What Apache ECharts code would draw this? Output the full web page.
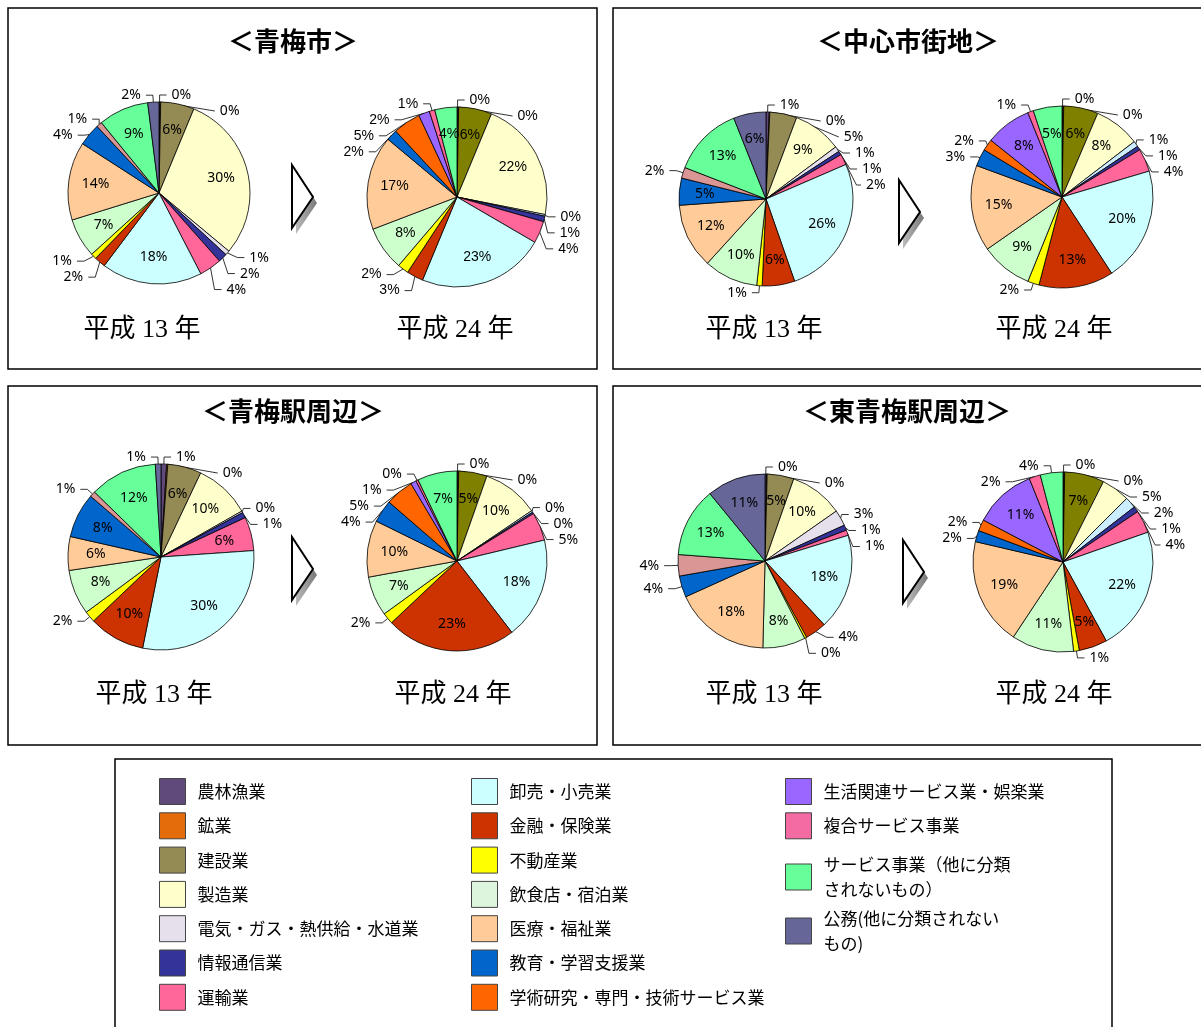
<!DOCTYPE html>
<html><head><meta charset="utf-8">
<script src="https://cdn.jsdelivr.net/npm/echarts@6/dist/echarts.min.js"></script>
<style>html,body{margin:0;padding:0;background:#fff}#c{width:1201px;height:1027px}</style>
</head><body><div id="c"></div><script>
// ---- data ----
const categories = ['農林漁業','鉱業','建設業','製造業','電気・ガス・熱供給・水道業','情報通信業','運輸業',
  '卸売・小売業','金融・保険業','不動産業','飲食店・宿泊業','医療・福祉業','教育・学習支援業','学術研究・専門・技術サービス業',
  '生活関連サービス業・娯楽業','複合サービス事業','サービス事業（他に分類されないもの）','公務(他に分類されないもの)'];
const panelTitles = ['＜青梅市＞','＜中心市街地＞','＜青梅駅周辺＞','＜東青梅駅周辺＞'];
const yearLabels = ['平成 13 年','平成 24 年'];
const omeH13     = [0.2,0.1,6,30,0.8,1.6,4,18,2,1,7,14,4,null,null,1,9,2];
const omeH24     = [0.2,0.1,6,22,0.3,1,4,23,3,2,8,17,2,5,2,1,4,null];
const chushinH13 = [0.6,0.1,5,9,1,0.7,2,26,6,1,10,12,5,null,null,2,13,6];
const chushinH24 = [0.2,0.1,6,8,1,0.7,4,20,13,2,9,15,3,2,8,1,5,null];
const ekiH13     = [1,0.2,6,10,0.3,1,6,30,10,2,8,6,8,null,null,1,12,1];
const ekiH24     = [0.2,0.1,5,10,0.3,0.3,5,18,23,2,7,10,4,5,1,0.4,7,null];
const higashiH13 = [0.3,0.1,5,10,3,1,1,18,4,0.4,8,18,4,null,null,4,13,11];
const higashiH24 = [0.2,0.1,7,5,2,1,4,22,5,1,11,19,2,2,11,2,4,null];

// ---- styles ----
const colorsH13 = ['#604A7B','#E46C0A','#948A54','#FFFFCC','#E6E0EC','#333399','#FF6699','#CCFFFF','#CC3300','#FFFF00',
  '#CCFFCC','#FFCC99','#0066CC','#FF6600','#9966FF','#D99694','#66FF99','#666699'];
const colorsH24 = ['#604A7B','#E46C0A','#808000','#FFFFCC','#CCECFF','#333399','#FF6699','#CCFFFF','#CC3300','#FFFF00',
  '#CCFFCC','#FFCC99','#0066CC','#FF6600','#9966FF','#FF6699','#66FF99','#666699'];
const legendColors = ['#604A7B','#E46C0A','#948A54','#FFFFCC','#E6E0EC','#333399','#FF6699','#CCFFFF','#CC3300','#FFFF00',
  '#DDF5DD','#FFCC99','#0066CC','#FF6600','#9966FF','#F46BA3','#66FF99','#666699'];
const legendLabels = {'サービス事業（他に分類されないもの）':'サービス事業（他に分類\nされないもの）',
  '公務(他に分類されないもの)':'公務(他に分類されない\nもの)'};

const pies = [
  {values: omeH13, colors: colorsH13, center:[159,193], r:91, font:'"Noto Sans"', inside:[2,3,7,10,11,16]},
  {values: omeH24, colors: colorsH24, center:[457,197], r:90, font:'"Liberation Sans"', inside:[2,3,7,10,11,16]},
  {values: chushinH13, colors: colorsH13, center:[766,199], r:87, font:'"Noto Sans"', inside:[3,7,8,10,11,12,16,17]},
  {values: chushinH24, colors: colorsH24, center:[1062,197], r:91, font:'"Noto Sans"', inside:[2,3,7,8,10,11,14,16]},
  {values: ekiH13, colors: colorsH13, center:[161,557], r:93, font:'"Noto Sans"', inside:[2,3,6,7,8,10,11,12,16]},
  {values: ekiH24, colors: colorsH24, center:[457,561], r:90, font:'"Noto Sans"', inside:[2,3,7,8,10,11,16]},
  {values: higashiH13, colors: colorsH13, center:[765,561], r:87, font:'"Noto Sans"', inside:[2,3,7,10,11,16,17]},
  {values: higashiH24, colors: colorsH24, center:[1063,562], r:90, font:'"Noto Sans"', inside:[2,7,8,10,11,14]}
];

const fmt = p => Math.round(p.value) + '%';
const series = [];
pies.forEach(p => {
  const items = [];
  p.values.forEach((v, i) => { if (v != null) items.push({i, name: categories[i], value: v}); });
  const ins = new Set(p.inside);
  series.push({
    type:'pie', center:p.center, radius:p.r, startAngle:90, clockwise:true, silent:true,
    avoidLabelOverlap:true, animation:false,
    itemStyle:{borderColor:'#000', borderWidth:0.8},
    label:{position:'outside', formatter:fmt, fontSize:14, color:'#000', fontFamily:p.font},
    labelLine:{length:7, length2:7, lineStyle:{color:'#000', width:0.8}},
    data: items.map(d => ({name:d.name, value:d.value, itemStyle:{color:p.colors[d.i]},
      label:{show:!ins.has(d.i)}, labelLine:{show:!ins.has(d.i)}}))
  });
  series.push({
    type:'pie', center:p.center, radius:p.r*1.34, startAngle:90, clockwise:true, silent:true, animation:false,
    itemStyle:{color:'rgba(0,0,0,0)', borderWidth:0},
    label:{position:'inside', formatter:fmt, fontSize:14, color:'#000', fontFamily:p.font},
    labelLine:{show:false},
    data: items.map(d => ({name:d.name, value:d.value, itemStyle:{color:'rgba(0,0,0,0)'},
      label:{show:ins.has(d.i)}}))
  });
});

function legendData(idx){
  return idx.map(i => ({name: categories[i], itemStyle:{color: legendColors[i], borderColor:'#444', borderWidth:1}}));
}
const legendBase = {orient:'vertical', icon:'rect', itemWidth:26, itemHeight:26, itemGap:7.3, selectedMode:false,
  padding:0, height:250,
  formatter: n => legendLabels[n] || n,
  textStyle:{fontSize:17, color:'#000', fontFamily:'"Noto Sans CJK JP"', lineHeight:25, padding:[0,0,0,7]}};
const legends = [
  Object.assign({left:159, top:778, data:legendData([0,1,2,3,4,5,6])}, legendBase),
  Object.assign({left:471, top:778, data:legendData([7,8,9,10,11,12,13])}, legendBase),
  Object.assign({left:785, top:778, data:legendData([14,15])}, legendBase),
  Object.assign({left:785, top:852, data:legendData([16])}, legendBase, {height:60}),
  Object.assign({left:785, top:906, data:legendData([17])}, legendBase, {height:60})
];

// ---- decoration ----
const graphics = [];
const panels = [[8,8,589,361],[613,8,600,361],[8,386,589,359],[613,386,600,359]];
panels.forEach(b => graphics.push({type:'rect', shape:{x:b[0],y:b[1],width:b[2],height:b[3]},
  style:{fill:'none', stroke:'#000', lineWidth:1.5}, silent:true}));
graphics.push({type:'rect', shape:{x:115,y:759,width:997,height:280}, style:{fill:'none', stroke:'#000', lineWidth:1.5}, silent:true});
const titlePos = [[293,41],[908,41],[293,411],[907,411]];
titlePos.forEach((t,i) => graphics.push({type:'text', x:t[0], y:t[1], silent:true,
  style:{text:panelTitles[i], fontSize:26, fontWeight:'bold', fontFamily:'"Noto Sans CJK JP"', fill:'#000', align:'center', verticalAlign:'middle'}}));
const yearPos = [[142,330,0],[455,330,1],[764,330,0],[1054,330,1],[154,695,0],[453,695,1],[764,695,0],[1054,695,1]];
yearPos.forEach(t => graphics.push({type:'text', x:t[0], y:t[1], silent:true,
  style:{text:yearLabels[t[2]], fontSize:26, fontFamily:'"Liberation Serif","Noto Sans CJK JP"', fill:'#000', align:'center', verticalAlign:'middle'}}));
const arrows = [[292,165],[899,180],[292,537],[903,540]];
arrows.forEach(a => {
  graphics.push({type:'polygon', silent:true, shape:{points:[[a[0]+4,a[1]+6],[a[0]+25,a[1]+38],[a[0]+4,a[1]+69]]},
    style:{fill:new echarts.graphic.LinearGradient(0,0,1,0,[{offset:0,color:'#bbb'},{offset:1,color:'#777'}])}});
  graphics.push({type:'polygon', silent:true, shape:{points:[[a[0],a[1]],[a[0]+21,a[1]+32],[a[0],a[1]+63]]},
    style:{fill:'#fff', stroke:'#000', lineWidth:2}});
});

const chart = echarts.init(document.getElementById('c'), null, {renderer:'canvas'});
chart.setOption({backgroundColor:'#fff', animation:false, legend:legends, series:series, graphic:graphics});
</script></body></html>
